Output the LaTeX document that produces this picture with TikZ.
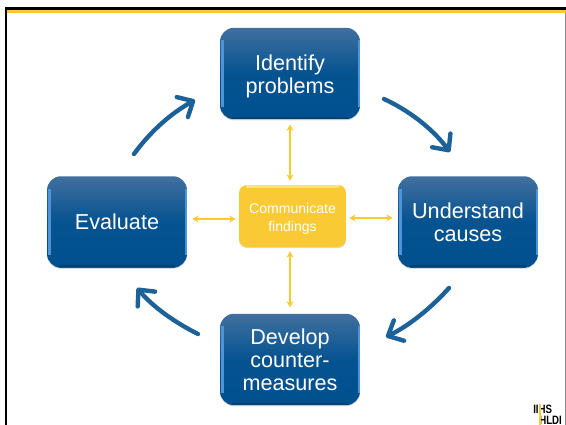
\documentclass[tikz,border=0pt]{standalone}
\usepackage{fontspec}
\setmainfont{Liberation Sans}
\usetikzlibrary{arrows}
\usetikzlibrary{arrows.meta}
\usetikzlibrary{shadows}
\definecolor{stepblue}{HTML}{00508F}
\definecolor{steptop}{HTML}{41709F}
\definecolor{stepedge}{HTML}{4F94D8}
\definecolor{hubyellow}{HTML}{FACA35}
\definecolor{hubedge}{HTML}{FFE27A}
\definecolor{arrowblue}{HTML}{1C6198}
\tikzset{
  stepbox/.style={rounded corners=0.28cm, minimum width=2.8cm, minimum height=1.83cm, inner sep=0pt,
    top color=steptop, bottom color=stepblue, middle color=stepblue!92!steptop, text=white, align=center,
    font=\fontsize{12.3}{13}\selectfont, drop shadow={opacity=.3,shadow xshift=0pt,shadow yshift=-.6pt},
    path picture={
      \draw[stepedge, line width=1.6pt] ([xshift=1.5pt,yshift=-7pt]path picture bounding box.north west) -- ([xshift=1.5pt,yshift=7pt]path picture bounding box.south west);
      \draw[stepedge, line width=1.6pt] ([xshift=-.6pt,yshift=-7pt]path picture bounding box.north east) -- ([xshift=-.6pt,yshift=7pt]path picture bounding box.south east);
      \draw[stepblue!80!black, line width=1.2pt] ([xshift=7pt,yshift=.7pt]path picture bounding box.south west) -- ([xshift=-7pt,yshift=.7pt]path picture bounding box.south east);
    }},
  hubbox/.style={rounded corners=0.16cm, minimum width=2.14cm, minimum height=1.24cm, inner sep=0pt,
    fill=hubyellow, text=white, align=center, font=\fontsize{8}{10.2}\selectfont,
    drop shadow={opacity=.3,shadow xshift=0pt,shadow yshift=-.6pt},
    path picture={
      \draw[hubedge, line width=1.5pt] ([xshift=4pt,yshift=-.7pt]path picture bounding box.north west) -- ([xshift=-4pt,yshift=-.7pt]path picture bounding box.north east);
    }},
  cycle arrow/.style={draw=arrowblue, line width=2.5pt, line cap=round, -{Straight Barb[length=7pt,width=13pt,line width=2.5pt,round]}},
  link arrow/.style={draw=hubyellow, line width=0.7pt, {Stealth[length=3.6pt,width=4pt]}-{Stealth[length=3.6pt,width=4pt]}},
  logo text/.style={inner sep=0pt, xscale=.8, font=\bfseries\fontsize{6.9}{6.9}\selectfont}
}
\begin{document}
\begin{tikzpicture}[x=0.02cm,y=-0.02cm]
  \useasboundingbox (0,0) rectangle (566,425);
  % page frame
  \draw[black, line width=1.6pt] (6,425) -- (6,8.5) -- (566,8.5);
  \draw[hubyellow, line width=2pt] (7.5,11.7) -- (566,11.7);
  \draw[black!45, line width=0.5pt] (565.5,13) -- (565.5,425);
  % boxes
  \node[stepbox] (identify) at (290,73.5) {\rule{0pt}{12.4pt}Identify\\problems};
  \node[stepbox] (evaluate) at (117,222) {Evaluate};
  \node[stepbox] (understand) at (468,222) {Understand\\causes};
  \node[stepbox] (develop) at (290,359.5) {Develop\\counter-\\measures};
  \node[hubbox] (hub) at (292.5,216) {\rule{0pt}{8.7pt}Communicate\\findings};
  % yellow links
  \draw[link arrow, shorten <=5*0.5669pt, shorten >=4*0.5669pt] (identify.south) -- (identify.south |- hub.north);
  \draw[link arrow, shorten <=6*0.5669pt, shorten >=4*0.5669pt] (develop.north) -- (develop.north |- hub.south);
  \draw[link arrow, shorten <=5*0.5669pt, shorten >=3*0.5669pt] (evaluate.east |- 0,219) -- (hub.west |- 0,219);
  \draw[link arrow, shorten <=5*0.5669pt, shorten >=3*0.5669pt] (understand.west |- 0,218) -- (hub.east |- 0,218);
  % blue cycle
  \coordinate (ev out) at (134,154);
  \coordinate (id in) at (195,100);
  \coordinate (id out) at (384,99);
  \coordinate (un in) at (450,152);
  \coordinate (un out) at (449,288);
  \coordinate (de in) at (386,337);
  \coordinate (de out) at (198,334);
  \coordinate (ev in) at (137,288);
  \draw[cycle arrow] (ev out) .. controls (150,132) and (170,114) .. (id in);
  \draw[cycle arrow] (id out) .. controls (408,110) and (432,128) .. (un in);
  \draw[cycle arrow] (un out) .. controls (431,308) and (410,325) .. (de in);
  \draw[cycle arrow] (de out) .. controls (176,323) and (154,308) .. (ev in);
  % logo
  \node[logo text, anchor=north west] (logotop) at (533,405) {IIHS};
  \node[logo text, anchor=north west] (logobot) at (539,415.5) {HLDI};
  \draw[hubyellow, line width=1pt] (logotop.north -| 540.3,0) -- (logobot.south -| 540.3,0);
\end{tikzpicture}
\end{document}
